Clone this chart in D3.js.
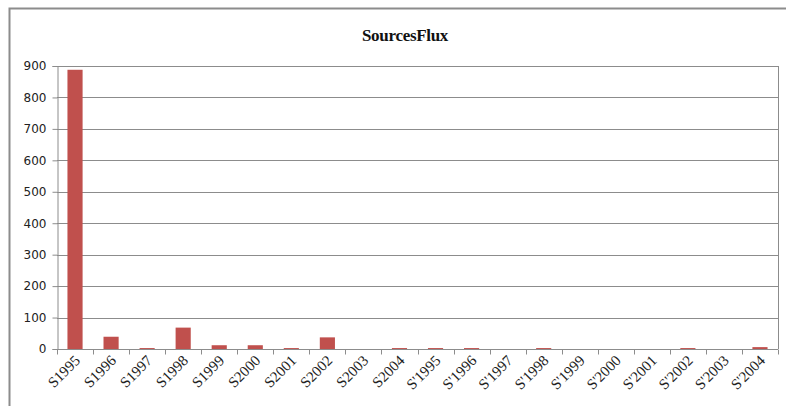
<!DOCTYPE html>
<html>
<head>
<meta charset="utf-8">
<script src="https://cdn.jsdelivr.net/npm/d3@7"></script>
<style>
  body { margin: 0; background: #fff; }
  .y-tick text { font-family: "DejaVu Sans", Verdana, sans-serif; font-size: 12px; fill: #222; }
  .x-tick text { font-family: "Liberation Serif", "Times New Roman", serif; font-size: 15px; fill: #222; }
</style>
</head>
<body>
<div class="chart"></div>
<script>
/* Data
============================================= */
const categories = ["S1995", "S1996", "S1997", "S1998", "S1999", "S2000", "S2001", "S2002", "S2003", "S2004",
                    "S'1995", "S'1996", "S'1997", "S'1998", "S'1999", "S'2000", "S'2001", "S'2002", "S'2003", "S'2004"];
const values = [888, 39, 3, 68, 12, 12, 3, 37, 0, 3,
                3, 3, 0, 3, 0, 0, 0, 3, 0, 6];
const yTicks = [0, 100, 200, 300, 400, 500, 600, 700, 800, 900];
const chartTitle = "SourcesFlux";

/* Layout
============================================= */
const SVG_WIDTH = 786;
const SVG_HEIGHT = 406;

var margin = { top: 66, bottom: 57, left: 57, right: 8 };
var width = SVG_WIDTH - margin.left - margin.right;
var height = SVG_HEIGHT - margin.top - margin.bottom;

var svg = d3.select(".chart")
    .append("svg")
    .attr("width", SVG_WIDTH)
    .attr("height", SVG_HEIGHT);

// outer chart frame
svg.append("rect")
    .attr("x", 9.5)
    .attr("y", 8.5)
    .attr("width", 790)
    .attr("height", 420)
    .attr("fill", "none")
    .attr("stroke", "#8c8c8c")
    .attr("stroke-width", 2);

svg.append("text")
    .attr("x", 405)
    .attr("y", 41)
    .attr("text-anchor", "middle")
    .style("font-family", "'Liberation Serif', 'Times New Roman', serif")
    .style("font-weight", "bold")
    .style("font-size", "17px")
    .style("letter-spacing", "-0.3px")
    .attr("fill", "#111")
    .text(chartTitle);

var chart = svg.append("g")
    .attr("transform", `translate(${margin.left}, ${margin.top})`);

/* Scales
============================================= */
var xBand = d3.scaleBand().domain(categories).range([0, width]).paddingInner(0.58).paddingOuter(0.29);
var xTickBand = d3.scaleBand().domain(categories).range([0, width]);
var yLinear = d3.scaleLinear().domain([0, 900]).range([height, 0]);

// gridlines
chart.append("g")
    .selectAll("line")
    .data(yTicks.filter(function(d) { return d > 0; }))
    .enter()
    .append("line")
    .attr("x1", 0)
    .attr("x2", width)
    .attr("y1", function(d) { return Math.round(yLinear(d)) + 0.5; })
    .attr("y2", function(d) { return Math.round(yLinear(d)) + 0.5; })
    .attr("stroke", "#8c8c8c")
    .attr("stroke-width", 1);

// right border of plot area
chart.append("line")
    .attr("x1", width + 0.5).attr("x2", width + 0.5)
    .attr("y1", 0).attr("y2", height)
    .attr("stroke", "#8c8c8c");

// bars
chart.append("g")
    .selectAll("rect")
    .data(values)
    .enter()
    .append("rect")
    .attr("x", function(d, i) { return xBand(categories[i]); })
    .attr("y", function(d) { return yLinear(d); })
    .attr("width", xBand.bandwidth())
    .attr("height", function(d) { return height - yLinear(d); })
    .attr("fill", "#c0504d");

// y axis
var leftAxis = d3.axisLeft(yLinear).tickValues(yTicks).tickSize(5).tickPadding(6);
var yAxis = chart.append("g")
    .attr("class", "y-tick")
    .attr("transform", "translate(0.5, 0)")
    .call(leftAxis);
yAxis.selectAll("line, path").attr("stroke", "#8c8c8c");
yAxis.select(".domain").attr("d", `M-5,${height + 0.5}H0.5V0.5H-5`);

// x axis: ticks between categories
var xAxisG = chart.append("g")
    .attr("transform", `translate(0, ${Math.round(height) + 0.5})`);
xAxisG.append("line")
    .attr("x1", 0).attr("x2", width)
    .attr("stroke", "#8c8c8c");
xAxisG.selectAll(".sep")
    .data(d3.range(categories.length + 1))
    .enter()
    .append("line")
    .attr("class", "sep")
    .attr("x1", function(i) { return Math.round(i * xTickBand.step()) + 0.5; })
    .attr("x2", function(i) { return Math.round(i * xTickBand.step()) + 0.5; })
    .attr("y1", 0)
    .attr("y2", 5)
    .attr("stroke", "#8c8c8c");

var bottomAxis = d3.axisBottom(xTickBand).tickSize(0).tickPadding(0);
var xAxis = xAxisG.append("g")
    .attr("class", "x-tick")
    .call(bottomAxis);
xAxis.select(".domain").remove();
xAxis.selectAll("text")
    .attr("text-anchor", "end")
    .attr("dy", null)
    .attr("y", 0)
    .attr("transform", "translate(6, 12) rotate(-45)");
</script>
</body>
</html>
